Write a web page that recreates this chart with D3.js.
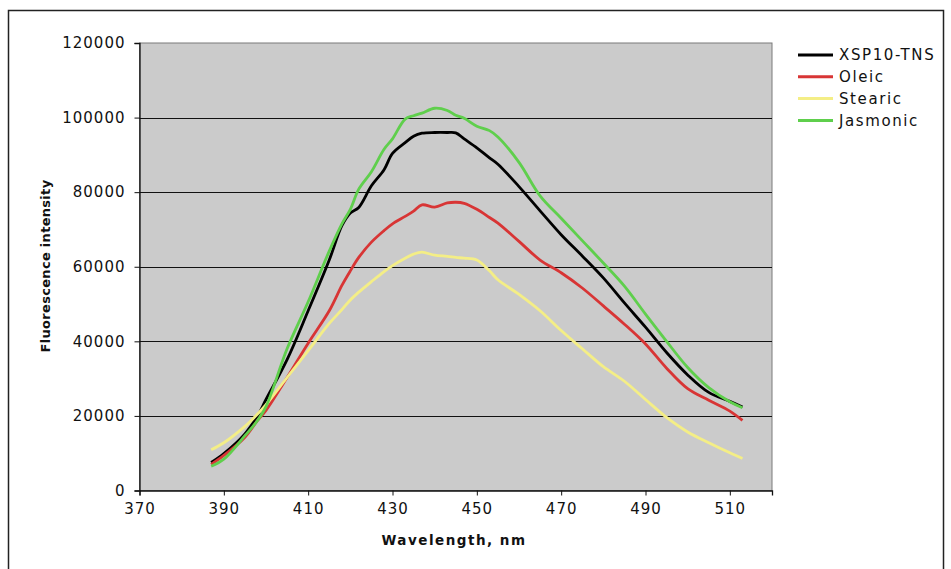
<!DOCTYPE html>
<html>
<head>
<meta charset="utf-8">
<script src="https://cdn.jsdelivr.net/npm/d3@7"></script>
<style>
  body { margin: 0; background: #fff; }
  text { font-family: "DejaVu Sans", Verdana, sans-serif; fill: #111; }
</style>
</head>
<body>
<svg id="chart" width="951" height="569"></svg>
<script>
var wavelength = [387, 390, 395, 398, 400, 405, 410, 415, 418, 420, 422, 425, 428, 430, 433, 435, 437, 440, 443, 445, 447, 450, 453, 455, 460, 465, 470, 475, 480, 485, 490, 495, 500, 505, 510, 513]

var xsp10 = [7500, 9900, 15200, 20000, 24400, 35100, 48200, 61800, 71000, 74400, 75900, 81700, 86000, 90400, 93300, 95000, 95800, 96000, 96000, 95900, 94300, 91900, 89200, 87500, 81500, 75000, 68600, 62900, 57000, 50300, 43800, 37000, 31000, 26300, 23900, 22400]
var oleic = [7000, 9400, 14300, 18800, 21500, 30300, 39500, 48200, 55000, 58900, 62500, 66600, 69700, 71500, 73500, 74900, 76600, 76000, 77100, 77300, 77000, 75400, 73200, 71700, 66800, 61800, 58400, 54300, 49500, 44600, 39300, 32800, 27300, 24200, 21300, 18800]
var stearic = [10900, 12800, 17200, 20500, 23000, 30300, 37500, 44800, 48500, 51100, 53200, 56000, 58700, 60300, 62300, 63400, 63900, 63100, 62800, 62500, 62300, 61800, 58900, 56500, 52600, 48200, 42900, 38000, 33200, 29300, 24400, 19600, 15700, 12800, 10100, 8600]
var jasmonic = [6500, 8400, 14700, 18800, 22500, 38000, 50600, 64200, 71500, 75400, 80800, 85500, 91500, 94300, 99600, 100500, 101200, 102500, 101900, 100600, 99800, 97700, 96500, 94800, 88000, 79000, 73000, 67000, 61000, 54800, 47300, 40000, 33000, 27600, 23800, 22200]

var seriesNames = ["XSP10-TNS", "Oleic", "Stearic", "Jasmonic"]
var seriesColors = ["#000000", "#d83535", "#f4ee86", "#5fcf4c"]
var seriesValues = [xsp10, oleic, stearic, jasmonic]

var xTicks = [370, 390, 410, 430, 450, 470, 490, 510]
var yTicks = [0, 20000, 40000, 60000, 80000, 100000, 120000]

var svg = d3.select("#chart")

// outer frame
svg.append("rect")
    .attr("x", 8.5).attr("y", 10.5)
    .attr("width", 935).attr("height", 600)
    .attr("fill", "none")
    .attr("stroke", "#222")
    .attr("stroke-width", 1.5)

var x = d3.scaleLinear().domain([370, 520]).range([139.5, 772])
var y = d3.scaleLinear().domain([0, 120000]).range([490.5, 43])

// plot area
svg.append("rect")
    .attr("x", x(370)).attr("y", y(120000))
    .attr("width", x(520) - x(370))
    .attr("height", y(0) - y(120000))
    .attr("fill", "#cbcbcb")
    .attr("stroke", "#7a7a7a")

// gridlines
svg.append("g")
    .selectAll("line")
    .data(yTicks.filter(function (d) { return d > 0 && d < 120000 }))
    .enter().append("line")
    .attr("x1", x(370)).attr("x2", x(520))
    .attr("y1", function (d) { return Math.round(y(d)) + 0.5 })
    .attr("y2", function (d) { return Math.round(y(d)) + 0.5 })
    .attr("stroke", "#111")
    .attr("stroke-width", 1.2)

// axes
var yAxis = svg.append("g")
    .attr("transform", "translate(" + x(370) + ",0)")
    .call(d3.axisLeft(y).tickValues(yTicks).tickSize(5).tickPadding(9).tickFormat(d3.format("d")))
var xAxis = svg.append("g")
    .attr("transform", "translate(0," + y(0) + ")")
    .call(d3.axisBottom(x).tickValues(xTicks).tickSize(5).tickPadding(6).tickFormat(d3.format("d")))

;[xAxis, yAxis].forEach(function (ax) {
    ax.select(".domain").attr("stroke", "#111").attr("stroke-width", 1.3)
    ax.selectAll(".tick line").attr("stroke", "#111")
    ax.selectAll(".tick text")
        .style("font-size", "15px")
        .style("letter-spacing", "1px")
        .attr("fill", "#111")
})
xAxis.selectAll(".tick text").attr("dy", "0.85em")

// axis titles
svg.append("text")
    .attr("transform", "translate(50,266) rotate(-90)")
    .attr("text-anchor", "middle")
    .style("font-size", "13px")
    .style("font-weight", "bold")
    .style("letter-spacing", "0.3px")
    .text("Fluorescence intensity")

svg.append("text")
    .attr("x", 454).attr("y", 545)
    .attr("text-anchor", "middle")
    .style("font-size", "13.5px")
    .style("font-weight", "bold")
    .style("letter-spacing", "1.5px")
    .text("Wavelength, nm")

// curves
var line = d3.line()
    .x(function (d, i) { return x(wavelength[i]) })
    .y(function (d) { return y(d) })
    .curve(d3.curveCatmullRom.alpha(0.5))

svg.append("g")
    .selectAll("path")
    .data(seriesValues)
    .enter().append("path")
    .attr("d", line)
    .attr("fill", "none")
    .attr("stroke", function (d, i) { return seriesColors[i] })
    .attr("stroke-width", 2.8)
    .attr("stroke-linejoin", "round")

// legend
var legend = svg.append("g")
    .selectAll("g")
    .data(seriesNames)
    .enter().append("g")
    .attr("transform", function (d, i) { return "translate(798," + (55 + i * 21.8) + ")" })

legend.append("line")
    .attr("x1", 0).attr("x2", 35)
    .attr("stroke", function (d, i) { return seriesColors[i] })
    .attr("stroke-width", 3)

legend.append("text")
    .attr("x", 41).attr("dy", "0.36em")
    .style("font-size", "15px")
    .style("letter-spacing", "1.6px")
    .text(function (d) { return d })
</script>
</body>
</html>
